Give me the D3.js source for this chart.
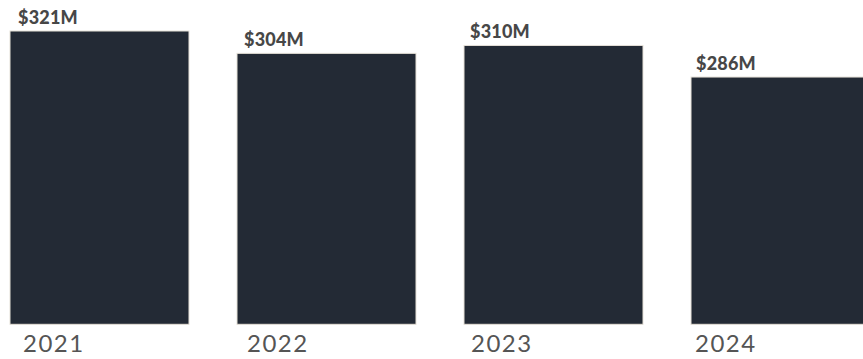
<!DOCTYPE html>
<html>
<head>
<meta charset="utf-8">
<script src="https://cdn.jsdelivr.net/npm/d3@7"></script>
<style>
  body { margin: 0; background: #fff; }
  svg { display: block; }
</style>
</head>
<body>
<div id="chart"></div>
<script>
// data
var years = ['2021', '2022', '2023', '2024'];
var revenue = [321, 304, 310, 286]; // $M
var valueLabels = ['$321M', '$304M', '$310M', '$286M'];

var width = 863, height = 359;

var svg = d3.select('#chart')
  .append('svg')
  .attr('width', width)
  .attr('height', height);

var data = years.map(function (y, i) {
  return { year: y, value: revenue[i], label: valueLabels[i] };
});

// bars
var x = d3.scaleBand().domain(years).range([10, 870]).paddingInner(0.2115).paddingOuter(0);
// value axis does not start at zero
var y = d3.scaleLinear().domain([98, 321]).range([324.3, 31]);

// text labels sit on their own slightly tighter grid
var xl = d3.scalePoint().domain(years).range([18, 696]);
var xt = d3.scalePoint().domain(years).range([23, 695]);

svg.selectAll('rect.bar')
  .data(data)
  .enter()
  .append('rect')
  .attr('class', 'bar')
  .attr('x', function (d) { return x(d.year); })
  .attr('y', function (d) { return y(d.value); })
  .attr('width', x.bandwidth())
  .attr('height', function (d) { return y(98) - y(d.value); })
  .attr('fill', '#232a35')
  .attr('stroke', '#e6e1d8')
  .attr('stroke-width', 1);

svg.selectAll('text.value')
  .data(data)
  .enter()
  .append('text')
  .attr('class', 'value')
  .attr('x', function (d) { return xl(d.year); })
  .attr('y', function (d) { return y(d.value) - 7; })
  .attr('font-family', 'Lato, sans-serif')
  .attr('font-weight', 900)
  .attr('font-size', 18)
  .attr('letter-spacing', 0.2)
  .attr('fill', '#474747')
  .text(function (d) { return d.label; });

svg.selectAll('text.year')
  .data(data)
  .enter()
  .append('text')
  .attr('class', 'year')
  .attr('x', function (d) { return xt(d.year); })
  .attr('y', 352)
  .attr('font-family', 'Lato, sans-serif')
  .attr('font-weight', 400)
  .attr('font-size', 24)
  .attr('letter-spacing', 1.5)
  .attr('fill', '#555')
  .text(function (d) { return d.year; });
</script>
</body>
</html>
